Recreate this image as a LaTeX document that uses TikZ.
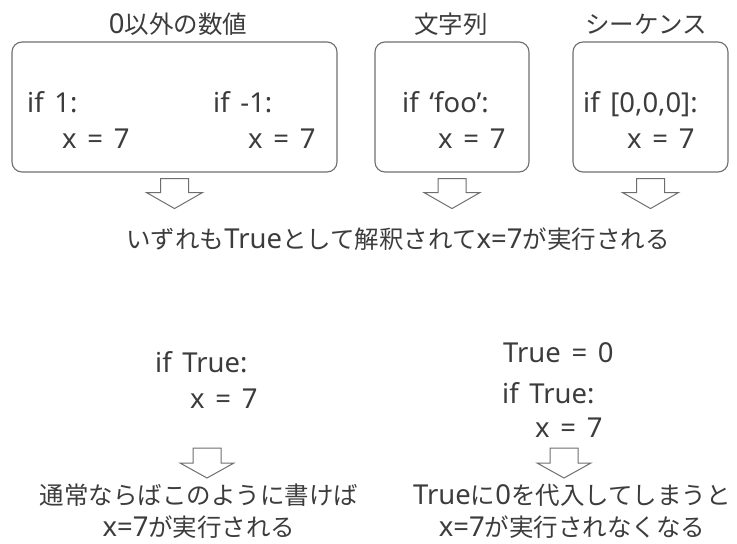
\documentclass[tikz,border=0pt]{standalone}
\usepackage{fontspec}
\setmainfont{Noto Sans CJK JP}
\newfontfamily\codefont[Scale=1.12, WordSpace=1.5]{Noto Sans}
\usetikzlibrary{positioning}
\definecolor{ink}{HTML}{3C3C3C}
\definecolor{frame}{HTML}{6E6E6E}

\begin{document}
\begin{tikzpicture}[
    x=1pt, y=-1pt,
    font=\fontsize{24.5}{32}\selectfont, text=ink,
    codebox/.style={draw=frame, line width=1.1pt, rounded corners=10pt, minimum height=130pt},
    code/.style={anchor=base west, inner sep=0pt, font=\fontsize{24.5}{32}\selectfont\codefont},
    ttl/.style={anchor=base, inner sep=0pt},
    caption/.style={align=center, inner sep=0pt, anchor=north},
    hollow/.style={draw=frame, line width=1pt, fill=white},
  ]
  \useasboundingbox (0,0) rectangle (737,544);
  % three cases, each in a box
  \node[codebox, minimum width=325pt] (num) at (174.5,107) {};
  \node[codebox, minimum width=154pt] (str) at (452,107) {};
  \node[codebox, minimum width=155pt] (seq) at (650.5,107) {};
  \node[ttl] (numttl) at (178,33) {{\codefont 0}以外の数値};
  \node[ttl] (strttl) at (451,33) {文字列};
  \node[ttl] (seqttl) at (646,33) {シーケンス};
  \node[code] (ifone) at (27,112) {if 1:};
  \node[code] (xone) at (62,148) {x = 7};
  \node[code] (ifneg) at (213,112) {if -1:};
  \node[code] (xneg) at (248,148) {x = 7};
  \node[code] (iffoo) at (402,112) {if ‘foo’:};
  \node[code] (xfoo) at (438,148) {x = 7};
  \node[code] (iflist) at (583,112) {if [0,0,0]:};
  \node[code] (xlist) at (627,148) {x = 7};
  \foreach \b in {num,str,seq}
    \draw[hollow] (\b.south) ++(-14,6) -- ++(0,14) -- ++(-14,0) -- ++(28,16)
      -- ++(28,-16) -- ++(-14,0) -- ++(0,-14) -- cycle;
  \node[ttl] (res) at (398,248) {いずれも{\codefont True}として解釈されて{\codefont x=7}が実行される};
  % if True, normal and redefined
  \node[code] (iftrue) at (155,372) {if True:};
  \node[code] (xtrue) at (190,408) {x = 7};
  \node[code] (setzero) at (503,362) {True = 0};
  \node[code] (iftruez) at (502,403) {if True:};
  \node[code] (xtruez) at (535,437) {x = 7};
  \coordinate (tipL) at (207,478);
  \coordinate (tipR) at (564,478);
  \foreach \t in {tipL,tipR}
    \draw[hollow] (\t) -- ++(-27,-15) -- ++(13,0) -- ++(0,-15) -- ++(28,0)
      -- ++(0,15) -- ++(13,0) -- cycle;
  \node[caption] (normal) at (199,484) {通常ならばこのように書けば\\{\codefont x=7}が実行される};
  \node[caption] (redef) at (572,484) {{\codefont True}に{\codefont 0}を代入してしまうと\\{\codefont x=7}が実行されなくなる};
\end{tikzpicture}
\end{document}
